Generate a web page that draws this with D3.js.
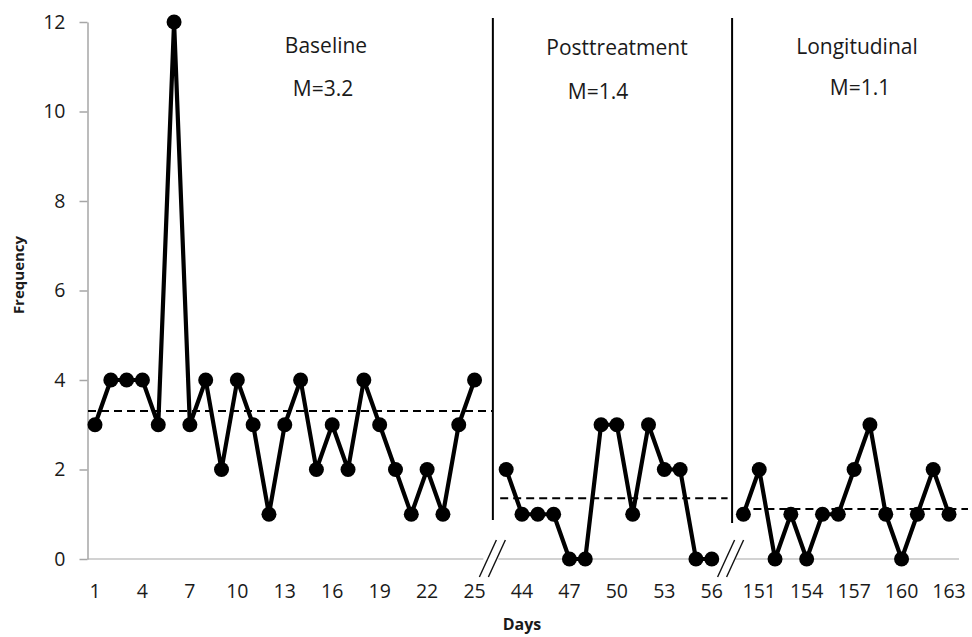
<!DOCTYPE html>
<html><head><meta charset="utf-8">
<script src="https://cdn.jsdelivr.net/npm/d3@7"></script>
<style>
html,body{margin:0;padding:0;background:#fff;}
svg{display:block;}
text{font-family:"Open Sans",sans-serif;fill:#1a1a1a;}
</style></head>
<body>
<svg id="chart" width="972" height="637"></svg>
<script>
// ---- data ----
const baselineDays   = [1,2,3,4,5,6,7,8,9,10,11,12,13,14,15,16,17,18,19,20,21,22,23,24,25];
const baselineValues = [3,4,4,4,3,12,3,4,2,4,3,1,3,4,2,3,2,4,3,2,1,2,1,3,4];
const postDays       = [43,44,45,46,47,48,49,50,51,52,53,54,55,56];
const postValues     = [2,1,1,1,0,0,3,3,1,3,2,2,0,0];
const longDays       = [150,151,152,153,154,155,156,157,158,159,160,161,162,163];
const longValues     = [1,2,0,1,0,1,1,2,3,1,0,1,2,1];
const phaseNames     = ["Baseline","Posttreatment","Longitudinal"];
const phaseMeans     = ["M=3.2","M=1.4","M=1.1"];
const meanLineLevels = [3.31,1.36,1.12];
const yTicks         = [0,2,4,6,8,10,12];

// ---- category slots (with one empty break slot between phases) ----
const slots = [
  ...baselineDays.map(d=>"d"+d), "gap1",
  ...postDays.map(d=>"d"+d), "gap2",
  ...longDays.map(d=>"d"+d)
];
const tickSlots = slots.filter((s,i)=> i%3===0 && !s.startsWith("gap"));

const svg = d3.select("#chart");
const x = d3.scalePoint().domain(slots).range([95, 949]);
const y = d3.scaleLinear().domain([0,12]).range([559, 22]);

// y axis
const yAxis = svg.append("g").attr("transform","translate(87.5,0)")
  .call(d3.axisLeft(y).tickValues(yTicks).tickSize(8).tickPadding(14).tickSizeOuter(0));
yAxis.select(".domain").attr("stroke","#a6a6a6").attr("stroke-width",1.5);
yAxis.selectAll(".tick line").attr("stroke","#a6a6a6").attr("stroke-width",1.5);
yAxis.selectAll(".tick text").style("font-family","'Open Sans',sans-serif").style("font-size","19.5px").attr("fill","#1a1a1a");

// x axis segments (broken)
const y0 = y(0);
const segs = [
  [87.5, x("gap1")-7],
  [x("gap1")+8, x("gap2")-10],
  [x("gap2")+8, x("d163")+10]
];
svg.append("g").selectAll("line").data(segs).join("line")
  .attr("x1",d=>d[0]).attr("x2",d=>d[1]).attr("y1",y0).attr("y2",y0)
  .attr("stroke","#a6a6a6").attr("stroke-width",1.2);

// x tick labels
const labelOf = s => s.slice(1);
svg.append("g").selectAll("text").data(tickSlots).join("text")
  .attr("x",d=>x(d)).attr("y",y0+39)
  .attr("text-anchor","middle").style("font-size","19.5px")
  .text(labelOf);

// break marks
[["gap1",1],["gap2",2]].forEach(([g,o])=>{
  const cx = x(g)+o;
  [[-12,-4],[-3,5]].forEach(([a,b])=>{
    svg.append("line")
      .attr("x1",cx+a).attr("y1",y0+18).attr("x2",cx+a+17).attr("y2",y0-19)
      .attr("stroke","#111").attr("stroke-width",1.4);
  });
});

// phase change lines
[["gap1",2.5,520],["gap2",4.5,523]].forEach(([g,o,yb])=>{
  svg.append("line").attr("x1",x(g)+o).attr("x2",x(g)+o).attr("y1",18).attr("y2",yb)
    .attr("stroke","#000").attr("stroke-width",2);
});

// mean dashed lines
const meanSpans = [
  [88, x("gap1")+2],
  [x("d43")-6, x("gap2")],
  [x("d150")-3, 968]
];
svg.append("g").selectAll("line").data(meanLineLevels).join("line")
  .attr("x1",(d,i)=>meanSpans[i][0]).attr("x2",(d,i)=>meanSpans[i][1])
  .attr("y1",d=>y(d)).attr("y2",d=>y(d))
  .attr("stroke","#000").attr("stroke-width",2).attr("stroke-dasharray","8,5");

// series
const phases = [
  baselineDays.map((d,i)=>({s:"d"+d,v:baselineValues[i]})),
  postDays.map((d,i)=>({s:"d"+d,v:postValues[i]})),
  longDays.map((d,i)=>({s:"d"+d,v:longValues[i]}))
];
const line = d3.line().x(d=>x(d.s)).y(d=>y(d.v));
phases.forEach(p=>{
  svg.append("path").datum(p).attr("d",line)
    .attr("fill","none").attr("stroke","#000").attr("stroke-width",4.2)
    .attr("stroke-linejoin","round");
  svg.append("g").selectAll("circle").data(p).join("circle")
    .attr("cx",d=>x(d.s)).attr("cy",d=>y(d.v)).attr("r",7.5).attr("fill","#000");
});

// phase labels
const labelPos = [[326,53,323,96],[617,55,598,99],[857,54,860,95]];
phaseNames.forEach((n,i)=>{
  const p = labelPos[i];
  svg.append("text").attr("x",p[0]).attr("y",p[1]).attr("text-anchor","middle")
    .style("font-size","21px").text(n);
  svg.append("text").attr("x",p[2]).attr("y",p[3]).attr("text-anchor","middle")
    .style("font-size","21px").text(phaseMeans[i]);
});

// axis titles
svg.append("text").attr("transform","translate(24,275) rotate(-90)")
  .attr("text-anchor","middle").style("font-size","15px").style("font-weight","bold")
  .attr("fill","#000").text("Frequency");
svg.append("text").attr("x",522).attr("y",630).attr("text-anchor","middle")
  .style("font-size","16px").style("font-weight","bold").attr("fill","#000").text("Days");
</script>
</body></html>
